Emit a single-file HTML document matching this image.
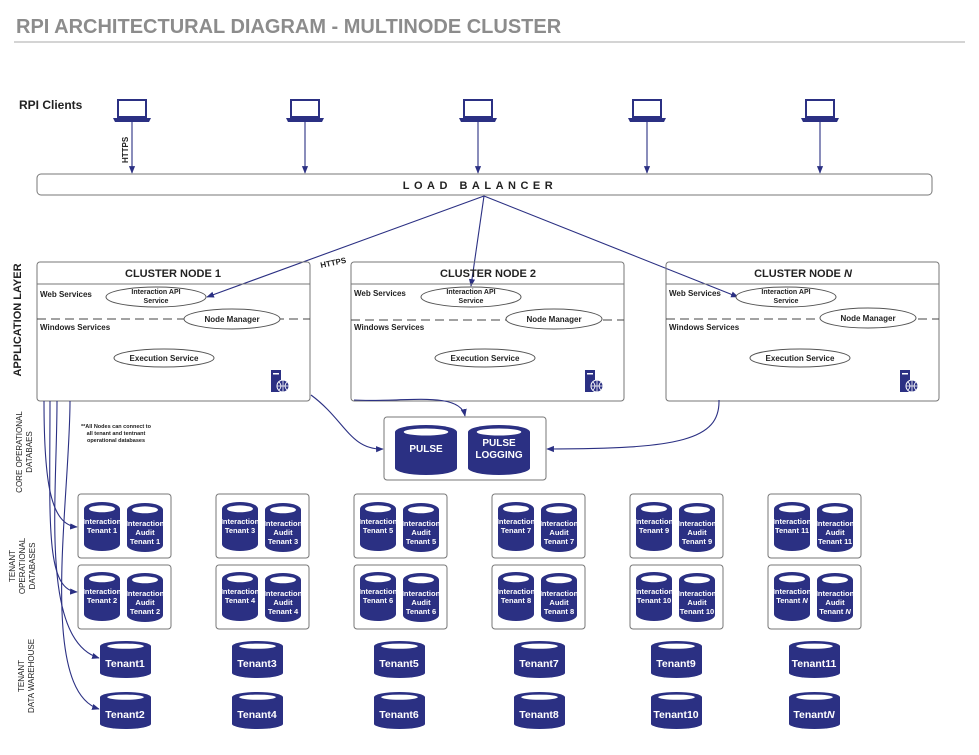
<!DOCTYPE html>
<html><head><meta charset="utf-8"><style>
body{margin:0;background:#fff}
svg{display:block;font-family:"Liberation Sans",Arial,sans-serif}
.w{fill:#fff;font-weight:bold;text-anchor:middle}
.b{font-weight:bold;fill:#222}
.ln{stroke:#2b3083;stroke-width:1.1;fill:none}
</style></head><body>
<svg width="979" height="755" viewBox="0 0 979 755" xmlns="http://www.w3.org/2000/svg">
<defs>
<symbol id="cyl" viewBox="0 0 100 100" preserveAspectRatio="none">
<path d="M0,14 A50,14 0 0 1 100,14 V86 A50,14 0 0 1 0,86 Z" fill="#2b3083"/>
<ellipse cx="50" cy="14" rx="36" ry="7" fill="#fff"/>
</symbol>
<symbol id="lap" viewBox="0 0 40 24">
<rect x="6" y="1" width="28" height="17" fill="#fff" stroke="#2b3083" stroke-width="2"/>
<path d="M1,19 H39 L37,23 H3 Z" fill="#2b3083"/>
</symbol>
<symbol id="srv" viewBox="0 0 20 24">
<rect x="1" y="0" width="10" height="22" fill="#2b3083"/>
<rect x="3" y="3" width="6" height="1.5" fill="#fff"/>
<circle cx="13" cy="16" r="6" fill="#2b3083" stroke="#fff" stroke-width="1"/>
<path d="M7,16 H19 M13,10 V22 M9,12 Q13,16 9,20 M17,12 Q13,16 17,20" stroke="#fff" stroke-width="0.8" fill="none"/>
</symbol>
<marker id="ar" viewBox="0 0 10 10" refX="9" refY="5" markerWidth="7" markerHeight="7" orient="auto"><path d="M0,1 L10,5 L0,9 Z" fill="#2b3083"/></marker>
</defs>

<text x="16" y="33" font-size="20" font-weight="bold" fill="#8c8c8c">RPI ARCHITECTURAL DIAGRAM - MULTINODE CLUSTER</text>
<line x1="14" y1="42" x2="965" y2="42" stroke="#aaa" stroke-width="1"/>

<text x="19" y="109" font-size="12" class="b">RPI Clients</text>
<g>
<use href="#lap" x="112" y="99" width="40" height="24"/>
<use href="#lap" x="285" y="99" width="40" height="24"/>
<use href="#lap" x="458" y="99" width="40" height="24"/>
<use href="#lap" x="627" y="99" width="40" height="24"/>
<use href="#lap" x="800" y="99" width="40" height="24"/>
</g>
<g class="ln">
<line x1="132" y1="121" x2="132" y2="173" marker-end="url(#ar)"/>
<line x1="305" y1="121" x2="305" y2="173" marker-end="url(#ar)"/>
<line x1="478" y1="121" x2="478" y2="173" marker-end="url(#ar)"/>
<line x1="647" y1="121" x2="647" y2="173" marker-end="url(#ar)"/>
<line x1="820" y1="121" x2="820" y2="173" marker-end="url(#ar)"/>
</g>
<text transform="translate(128,163) rotate(-90)" font-size="8" class="b">HTTPS</text>

<rect x="37" y="174" width="895" height="21" rx="4" fill="#fff" stroke="#777"/>
<text x="480" y="189" font-size="11" font-weight="bold" letter-spacing="4.5" text-anchor="middle" fill="#222">LOAD BALANCER</text>

<line class="ln" x1="484" y1="196" x2="207" y2="297" marker-end="url(#ar)"/>
<line class="ln" x1="484" y1="196" x2="471" y2="286" marker-end="url(#ar)"/>
<line class="ln" x1="484" y1="196" x2="738" y2="297" marker-end="url(#ar)"/>
<text x="320" y="265" font-size="8" class="b" transform="rotate(-12 335 262)">HTTPS</text>

<g>
<rect x="37" y="262" width="273" height="139" rx="3" fill="none" stroke="#777"/>
<line x1="37" y1="284" x2="310" y2="284" stroke="#777"/>
<text x="173" y="277" font-size="11" text-anchor="middle" class="b">CLUSTER NODE 1</text>
<text x="40" y="297" font-size="8" class="b">Web Services</text>
<ellipse cx="156" cy="297" rx="50" ry="10" fill="#fff" stroke="#555"/>
<text x="156" y="294" font-size="7" text-anchor="middle" class="b">Interaction API</text>
<text x="156" y="303" font-size="7" text-anchor="middle" class="b">Service</text>
<line x1="37" y1="319" x2="310" y2="319" stroke="#444" stroke-dasharray="9,5"/>
<ellipse cx="232" cy="319" rx="48" ry="10" fill="#fff" stroke="#555"/>
<text x="232" y="322" font-size="8" text-anchor="middle" class="b">Node  Manager</text>
<text x="40" y="330" font-size="8" class="b">Windows Services</text>
<ellipse cx="164" cy="358" rx="50" ry="9" fill="#fff" stroke="#555"/>
<text x="164" y="361" font-size="8" text-anchor="middle" class="b">Execution Service</text>
<use href="#srv" x="270" y="370" width="20" height="24"/>
</g>
<g>
<rect x="351" y="262" width="273" height="139" rx="3" fill="none" stroke="#777"/>
<line x1="351" y1="284" x2="624" y2="284" stroke="#777"/>
<text x="488" y="277" font-size="11" text-anchor="middle" class="b">CLUSTER NODE 2</text>
<text x="354" y="296" font-size="8" class="b">Web Services</text>
<ellipse cx="471" cy="297" rx="50" ry="10" fill="#fff" stroke="#555"/>
<text x="471" y="294" font-size="7" text-anchor="middle" class="b">Interaction API</text>
<text x="471" y="303" font-size="7" text-anchor="middle" class="b">Service</text>
<line x1="351" y1="320" x2="624" y2="320" stroke="#444" stroke-dasharray="9,5"/>
<ellipse cx="554" cy="319" rx="48" ry="10" fill="#fff" stroke="#555"/>
<text x="554" y="322" font-size="8" text-anchor="middle" class="b">Node  Manager</text>
<text x="354" y="330" font-size="8" class="b">Windows Services</text>
<ellipse cx="485" cy="358" rx="50" ry="9" fill="#fff" stroke="#555"/>
<text x="485" y="361" font-size="8" text-anchor="middle" class="b">Execution Service</text>
<use href="#srv" x="584" y="370" width="20" height="24"/>
</g>
<g>
<rect x="666" y="262" width="273" height="139" rx="3" fill="none" stroke="#777"/>
<line x1="666" y1="284" x2="939" y2="284" stroke="#777"/>
<text x="803" y="277" font-size="11" text-anchor="middle" class="b">CLUSTER NODE <tspan font-style="italic">N</tspan></text>
<text x="669" y="296" font-size="8" class="b">Web Services</text>
<ellipse cx="786" cy="297" rx="50" ry="10" fill="#fff" stroke="#555"/>
<text x="786" y="294" font-size="7" text-anchor="middle" class="b">Interaction API</text>
<text x="786" y="303" font-size="7" text-anchor="middle" class="b">Service</text>
<line x1="666" y1="319" x2="939" y2="319" stroke="#444" stroke-dasharray="9,5"/>
<ellipse cx="868" cy="318" rx="48" ry="10" fill="#fff" stroke="#555"/>
<text x="868" y="321" font-size="8" text-anchor="middle" class="b">Node  Manager</text>
<text x="669" y="330" font-size="8" class="b">Windows Services</text>
<ellipse cx="800" cy="358" rx="50" ry="9" fill="#fff" stroke="#555"/>
<text x="800" y="361" font-size="8" text-anchor="middle" class="b">Execution Service</text>
<use href="#srv" x="899" y="370" width="20" height="24"/>
</g>

<text transform="translate(21,320) rotate(-90)" font-size="11" text-anchor="middle" class="b">APPLICATION LAYER</text>
<text transform="translate(22,452) rotate(-90)" font-size="8" text-anchor="middle" fill="#222">CORE OPERATIONAL</text>
<text transform="translate(32,452) rotate(-90)" font-size="8" text-anchor="middle" fill="#222">DATABAES</text>
<text transform="translate(15,566) rotate(-90)" font-size="8" text-anchor="middle" fill="#222">TENANT</text>
<text transform="translate(25,566) rotate(-90)" font-size="8" text-anchor="middle" fill="#222">OPERATIONAL</text>
<text transform="translate(35,566) rotate(-90)" font-size="8" text-anchor="middle" fill="#222">DATABASES</text>
<text transform="translate(24,676) rotate(-90)" font-size="8" text-anchor="middle" fill="#222">TENANT</text>
<text transform="translate(34,676) rotate(-90)" font-size="8" text-anchor="middle" fill="#222">DATA WAREHOUSE</text>

<text x="116" y="428" font-size="5.5" text-anchor="middle" class="b">**All Nodes can connect to</text>
<text x="116" y="435" font-size="5.5" text-anchor="middle" class="b">all tenant and tentnant</text>
<text x="116" y="442" font-size="5.5" text-anchor="middle" class="b">operational databases</text>

<rect x="384" y="417" width="162" height="63" rx="3" fill="#fff" stroke="#777"/>
<use href="#cyl" x="395" y="425" width="62" height="50"/>
<use href="#cyl" x="468" y="425" width="62" height="50"/>
<text x="426" y="452" font-size="10" class="w">PULSE</text>
<text x="499" y="446" font-size="10" class="w">PULSE</text>
<text x="499" y="458" font-size="10" class="w">LOGGING</text>
<path class="ln" d="M311,395 C345,420 350,450 383,449" marker-end="url(#ar)"/>
<path class="ln" d="M354,400 C400,403 460,390 465,416" marker-end="url(#ar)"/>
<path class="ln" d="M719,400 C720,440 680,449 547,449" marker-end="url(#ar)"/>

<path class="ln" d="M44,401 C44,480 50,525 77,527" marker-end="url(#ar)"/>
<path class="ln" d="M50,401 C50,520 45,590 77,592" marker-end="url(#ar)"/>
<path class="ln" d="M57,401 C57,500 40,640 99,658" marker-end="url(#ar)"/>
<path class="ln" d="M70,401 C70,500 38,690 99,709" marker-end="url(#ar)"/>

<g font-size="7.5">
<g transform="translate(0,0)">
<rect x="78" y="494" width="93" height="64" rx="3" fill="#fff" stroke="#777"/>
<rect x="78" y="565" width="93" height="64" rx="3" fill="#fff" stroke="#777"/>
<use href="#cyl" x="84" y="502" width="36" height="49"/><use href="#cyl" x="127" y="503" width="36" height="49"/>
<use href="#cyl" x="84" y="572" width="36" height="49"/><use href="#cyl" x="127" y="573" width="36" height="49"/>
<text x="102" y="524" class="w">Interaction</text><text x="102" y="533" class="w">Tenant 1</text>
<text x="145" y="526" class="w">Interaction</text><text x="145" y="535" class="w">Audit</text><text x="145" y="544" class="w">Tenant 1</text>
<text x="102" y="594" class="w">Interaction</text><text x="102" y="603" class="w">Tenant 2</text>
<text x="145" y="596" class="w">Interaction</text><text x="145" y="605" class="w">Audit</text><text x="145" y="614" class="w">Tenant 2</text>
</g>
<g transform="translate(138,0)">
<rect x="78" y="494" width="93" height="64" rx="3" fill="#fff" stroke="#777"/>
<rect x="78" y="565" width="93" height="64" rx="3" fill="#fff" stroke="#777"/>
<use href="#cyl" x="84" y="502" width="36" height="49"/><use href="#cyl" x="127" y="503" width="36" height="49"/>
<use href="#cyl" x="84" y="572" width="36" height="49"/><use href="#cyl" x="127" y="573" width="36" height="49"/>
<text x="102" y="524" class="w">Interaction</text><text x="102" y="533" class="w">Tenant 3</text>
<text x="145" y="526" class="w">Interaction</text><text x="145" y="535" class="w">Audit</text><text x="145" y="544" class="w">Tenant 3</text>
<text x="102" y="594" class="w">Interaction</text><text x="102" y="603" class="w">Tenant 4</text>
<text x="145" y="596" class="w">Interaction</text><text x="145" y="605" class="w">Audit</text><text x="145" y="614" class="w">Tenant 4</text>
</g>
<g transform="translate(276,0)">
<rect x="78" y="494" width="93" height="64" rx="3" fill="#fff" stroke="#777"/>
<rect x="78" y="565" width="93" height="64" rx="3" fill="#fff" stroke="#777"/>
<use href="#cyl" x="84" y="502" width="36" height="49"/><use href="#cyl" x="127" y="503" width="36" height="49"/>
<use href="#cyl" x="84" y="572" width="36" height="49"/><use href="#cyl" x="127" y="573" width="36" height="49"/>
<text x="102" y="524" class="w">Interaction</text><text x="102" y="533" class="w">Tenant 5</text>
<text x="145" y="526" class="w">Interaction</text><text x="145" y="535" class="w">Audit</text><text x="145" y="544" class="w">Tenant 5</text>
<text x="102" y="594" class="w">Interaction</text><text x="102" y="603" class="w">Tenant 6</text>
<text x="145" y="596" class="w">Interaction</text><text x="145" y="605" class="w">Audit</text><text x="145" y="614" class="w">Tenant 6</text>
</g>
<g transform="translate(414,0)">
<rect x="78" y="494" width="93" height="64" rx="3" fill="#fff" stroke="#777"/>
<rect x="78" y="565" width="93" height="64" rx="3" fill="#fff" stroke="#777"/>
<use href="#cyl" x="84" y="502" width="36" height="49"/><use href="#cyl" x="127" y="503" width="36" height="49"/>
<use href="#cyl" x="84" y="572" width="36" height="49"/><use href="#cyl" x="127" y="573" width="36" height="49"/>
<text x="102" y="524" class="w">Interaction</text><text x="102" y="533" class="w">Tenant 7</text>
<text x="145" y="526" class="w">Interaction</text><text x="145" y="535" class="w">Audit</text><text x="145" y="544" class="w">Tenant 7</text>
<text x="102" y="594" class="w">Interaction</text><text x="102" y="603" class="w">Tenant 8</text>
<text x="145" y="596" class="w">Interaction</text><text x="145" y="605" class="w">Audit</text><text x="145" y="614" class="w">Tenant 8</text>
</g>
<g transform="translate(552,0)">
<rect x="78" y="494" width="93" height="64" rx="3" fill="#fff" stroke="#777"/>
<rect x="78" y="565" width="93" height="64" rx="3" fill="#fff" stroke="#777"/>
<use href="#cyl" x="84" y="502" width="36" height="49"/><use href="#cyl" x="127" y="503" width="36" height="49"/>
<use href="#cyl" x="84" y="572" width="36" height="49"/><use href="#cyl" x="127" y="573" width="36" height="49"/>
<text x="102" y="524" class="w">Interaction</text><text x="102" y="533" class="w">Tenant 9</text>
<text x="145" y="526" class="w">Interaction</text><text x="145" y="535" class="w">Audit</text><text x="145" y="544" class="w">Tenant 9</text>
<text x="102" y="594" class="w">Interaction</text><text x="102" y="603" class="w">Tenant 10</text>
<text x="145" y="596" class="w">Interaction</text><text x="145" y="605" class="w">Audit</text><text x="145" y="614" class="w">Tenant 10</text>
</g>
<g transform="translate(690,0)">
<rect x="78" y="494" width="93" height="64" rx="3" fill="#fff" stroke="#777"/>
<rect x="78" y="565" width="93" height="64" rx="3" fill="#fff" stroke="#777"/>
<use href="#cyl" x="84" y="502" width="36" height="49"/><use href="#cyl" x="127" y="503" width="36" height="49"/>
<use href="#cyl" x="84" y="572" width="36" height="49"/><use href="#cyl" x="127" y="573" width="36" height="49"/>
<text x="102" y="524" class="w">Interaction</text><text x="102" y="533" class="w">Tenant 11</text>
<text x="145" y="526" class="w">Interaction</text><text x="145" y="535" class="w">Audit</text><text x="145" y="544" class="w">Tenant 11</text>
<text x="102" y="594" class="w">Interaction</text><text x="102" y="603" class="w">Tenant <tspan font-style="italic">N</tspan></text>
<text x="145" y="596" class="w">Interaction</text><text x="145" y="605" class="w">Audit</text><text x="145" y="614" class="w">Tenant <tspan font-style="italic">N</tspan></text>
</g>
</g>

<g font-size="10.5">
<use href="#cyl" x="100" y="641" width="51" height="37"/><text x="125" y="667" class="w">Tenant1</text>
<use href="#cyl" x="100" y="692" width="51" height="37"/><text x="125" y="718" class="w">Tenant2</text>
<use href="#cyl" x="232" y="641" width="51" height="37"/><text x="257" y="667" class="w">Tenant3</text>
<use href="#cyl" x="232" y="692" width="51" height="37"/><text x="257" y="718" class="w">Tenant4</text>
<use href="#cyl" x="374" y="641" width="51" height="37"/><text x="399" y="667" class="w">Tenant5</text>
<use href="#cyl" x="374" y="692" width="51" height="37"/><text x="399" y="718" class="w">Tenant6</text>
<use href="#cyl" x="514" y="641" width="51" height="37"/><text x="539" y="667" class="w">Tenant7</text>
<use href="#cyl" x="514" y="692" width="51" height="37"/><text x="539" y="718" class="w">Tenant8</text>
<use href="#cyl" x="651" y="641" width="51" height="37"/><text x="676" y="667" class="w">Tenant9</text>
<use href="#cyl" x="651" y="692" width="51" height="37"/><text x="676" y="718" class="w">Tenant10</text>
<use href="#cyl" x="789" y="641" width="51" height="37"/><text x="814" y="667" class="w">Tenant11</text>
<use href="#cyl" x="789" y="692" width="51" height="37"/><text x="814" y="718" class="w">Tenant<tspan font-style="italic">N</tspan></text>
</g>
</svg>
</body></html>
